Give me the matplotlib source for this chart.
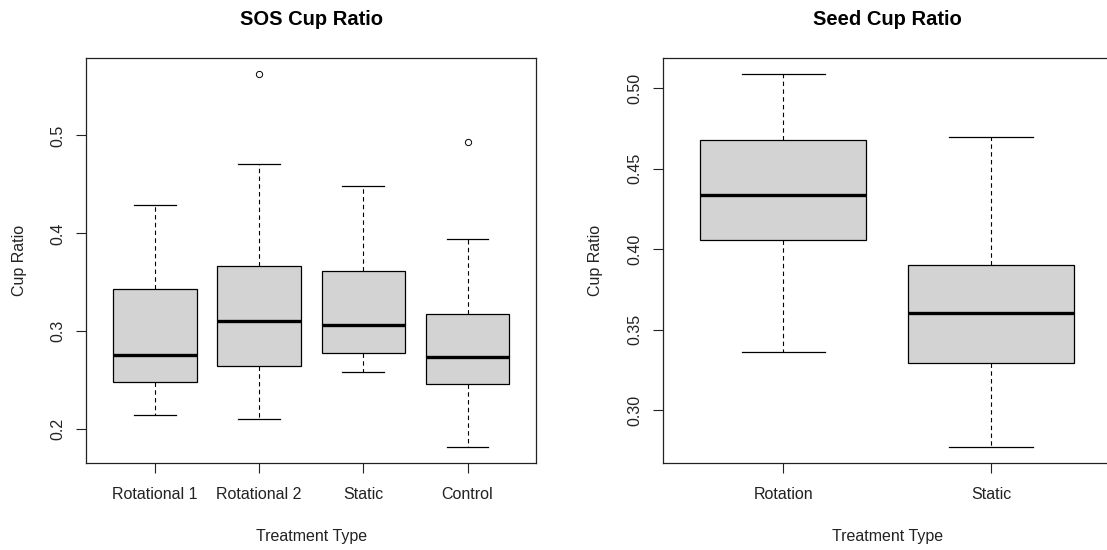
import matplotlib
matplotlib.use("Agg")
import matplotlib.pyplot as plt
from matplotlib.ticker import FixedLocator

plt.rcParams['font.family'] = ['Liberation Sans', 'DejaVu Sans']

# SOS cup ratio summary (whisker low, Q1, median, Q3, whisker high, outliers)
sos_groups = ['Rotational 1', 'Rotational 2', 'Static', 'Control']
sos_whislo = [0.215, 0.210, 0.258, 0.182]
sos_q1 = [0.248, 0.265, 0.278, 0.246]
sos_med = [0.276, 0.311, 0.306, 0.274]
sos_q3 = [0.343, 0.367, 0.362, 0.318]
sos_whishi = [0.429, 0.471, 0.448, 0.394]
sos_fliers = [[], [0.563], [], [0.493]]

# Seed cup ratio summary
seed_groups = ['Rotation', 'Static']
seed_whislo = [0.336, 0.277]
seed_q1 = [0.406, 0.329]
seed_med = [0.434, 0.3605]
seed_q3 = [0.468, 0.390]
seed_whishi = [0.509, 0.470]
seed_fliers = [[], []]

sos_ticks = [0.2, 0.3, 0.4, 0.5]
seed_ticks = [0.30, 0.35, 0.40, 0.45, 0.50]


def make_stats(labels, lo, q1, med, q3, hi, fliers):
    return [dict(label=l, whislo=a, q1=b, med=c, q3=d, whishi=e, fliers=f)
            for l, a, b, c, d, e, f in zip(labels, lo, q1, med, q3, hi, fliers)]


def r_boxplot(ax, stats, ylim, yticks, ytick_fmt, title):
    n = len(stats)
    ax.bxp(stats, positions=range(1, n + 1), widths=0.8, capwidths=0.4,
           patch_artist=True, showfliers=True,
           boxprops=dict(facecolor='#d3d3d3', edgecolor='black', linewidth=0.9),
           medianprops=dict(color='black', linewidth=2.4, solid_capstyle='butt'),
           whiskerprops=dict(color='black', linewidth=0.8, linestyle=(0, (4, 3))),
           capprops=dict(color='black', linewidth=0.9),
           flierprops=dict(marker='o', markersize=4.5, markerfacecolor='none',
                           markeredgecolor='black', markeredgewidth=0.7))
    ax.set_xlim(0.5 - 0.04 * n, n + 0.5 + 0.04 * n)
    ax.set_ylim(*ylim)
    ax.yaxis.set_major_locator(FixedLocator(yticks))
    ax.set_yticklabels([ytick_fmt.format(t) for t in yticks], rotation=90,
                       va='center')
    ax.set_xticks(range(1, n + 1))
    ax.set_xticklabels([s['label'] for s in stats])
    ax.tick_params(length=7, width=0.8, labelsize=11.5, pad=8, colors='#222222')
    ax.tick_params(axis='x', pad=10)
    for sp in ax.spines.values():
        sp.set_linewidth(0.9)
        sp.set_color('#222222')
    ax.set_xlabel('Treatment Type', fontsize=11.5, labelpad=20, color='#222222')
    ax.set_ylabel('Cup Ratio', fontsize=11.5, labelpad=17, color='#222222')
    ax.set_title(title, fontsize=14.5, fontweight='bold', pad=24)


fig = plt.figure(figsize=(11.07, 5.5), dpi=100)
ax1 = fig.add_axes([0.0777, 0.1582, 0.4068, 0.7363])
ax2 = fig.add_axes([0.5987, 0.1582, 0.4054, 0.7363])

r_boxplot(ax1, make_stats(sos_groups, sos_whislo, sos_q1, sos_med, sos_q3,
                          sos_whishi, sos_fliers),
          (0.1656, 0.579), sos_ticks, '{:.1f}', 'SOS Cup Ratio')
r_boxplot(ax2, make_stats(seed_groups, seed_whislo, seed_q1, seed_med, seed_q3,
                          seed_whishi, seed_fliers),
          (0.267, 0.5189), seed_ticks, '{:.2f}', 'Seed Cup Ratio')

fig.savefig('out.png', dpi=100)
